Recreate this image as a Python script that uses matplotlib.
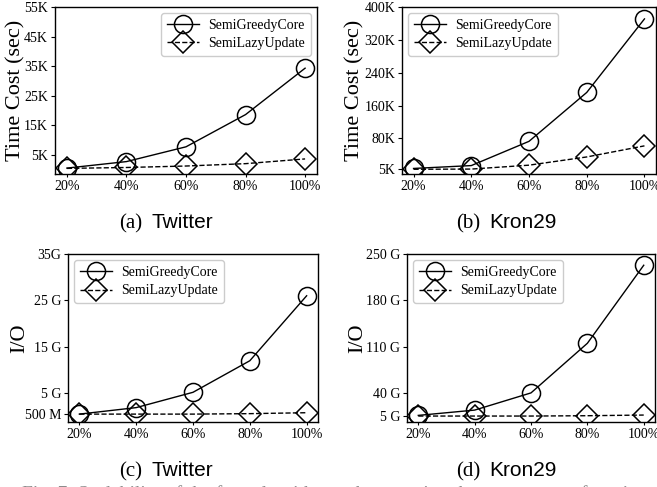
import matplotlib
matplotlib.use('Agg')
import matplotlib.pyplot as plt

W, H, DPI = 657, 487, 100

# ---------------- data ----------------
x_labels = ['20%', '40%', '60%', '80%', '100%']

# (a) Twitter, time cost in K seconds
tw_time_greedy = [0.5, 2.7, 7.7, 18.6, 34.3]
tw_time_lazy = [0.4, 0.7, 1.2, 2.0, 3.6]
tw_time_ticks = [5, 15, 25, 35, 45, 55]
tw_time_ticklabels = ['5K', '15K', '25K', '35K', '45K', '55K']

# (b) Kron29, time cost in K seconds
kr_time_greedy = [7, 14, 73, 192, 371]
kr_time_lazy = [5, 5.5, 15, 35, 62]
kr_time_ticks = [5, 80, 160, 240, 320, 400]
kr_time_ticklabels = ['5K', '80K', '160K', '240K', '320K', '400K']

# (c) Twitter, I/O in G
tw_io_greedy = [0.5, 1.9, 5.2, 12.0, 26.0]
tw_io_lazy = [0.5, 0.5, 0.5, 0.6, 0.8]
tw_io_ticks = [0.5, 5, 15, 25, 35]
tw_io_ticklabels = ['500 M', '5 G', '15 G', '25 G', '35G']

# (d) Kron29, I/O in G
kr_io_greedy = [6, 14, 40, 115, 233]
kr_io_lazy = [5, 5, 5, 5.5, 6.5]
kr_io_ticks = [5, 40, 110, 180, 250]
kr_io_ticklabels = ['5 G', '40 G', '110 G', '180 G', '250 G']

series_names = ['SemiGreedyCore', 'SemiLazyUpdate']

# ---------------- figure ----------------
plt.rcParams['font.family'] = ['Liberation Serif', 'DejaVu Serif']
plt.rcParams['mathtext.fontset'] = 'stix'

fig = plt.figure(figsize=(W / DPI, H / DPI), dpi=DPI)


def px_axes(l, t, r, b):
    return fig.add_axes([l / W, 1 - b / H, (r - l) / W, (b - t) / H])


panels = [
    dict(box=(55, 7, 317, 174), g=tw_time_greedy, l=tw_time_lazy,
         ticks=tw_time_ticks, tl=tw_time_ticklabels, ylim=(-1.5, 55),
         ylabel='Time Cost (sec)', lab_x=15.5, loc='upper right'),
    dict(box=(402, 7, 656, 174), g=kr_time_greedy, l=kr_time_lazy,
         ticks=kr_time_ticks, tl=kr_time_ticklabels, ylim=(-6.5, 400),
         ylabel='Time Cost (sec)', lab_x=355, loc='upper left'),
    dict(box=(68, 254, 318, 422), g=tw_io_greedy, l=tw_io_lazy,
         ticks=tw_io_ticks, tl=tw_io_ticklabels, ylim=(-1.2, 35),
         ylabel='I/O', lab_x=20, loc='upper left'),
    dict(box=(407, 254, 655, 422), g=kr_io_greedy, l=kr_io_lazy,
         ticks=kr_io_ticks, tl=kr_io_ticklabels, ylim=(-4, 250),
         ylabel='I/O', lab_x=358, loc='upper left'),
]

xs = list(range(len(x_labels)))
for p in panels:
    l, t, r, b = p['box']
    ax = px_axes(l, t, r, b)
    ax.plot(xs, p['g'], color='black', lw=1.0, ls='-', marker='o',
            markersize=13, markerfacecolor='none', markeredgewidth=1.1,
            label=series_names[0])
    ax.plot(xs, p['l'], color='black', lw=1.0, ls='--', marker='D',
            markersize=11, markerfacecolor='none', markeredgewidth=1.1,
            label=series_names[1])
    ax.set_xlim(-0.2, 4.2)
    ax.set_ylim(*p['ylim'])
    ax.set_xticks(xs, x_labels)
    ax.set_yticks(p['ticks'], p['tl'])
    ax.tick_params(axis='both', labelsize=10, direction='out', width=0.8,
                   pad=2, colors='black')
    ax.tick_params(axis='x', length=2)
    ax.tick_params(axis='y', length=3)
    for s in ax.spines.values():
        s.set_linewidth(1.0)
        s.set_color('black')
    ax.set_ylabel(p['ylabel'], fontsize=16, va='center')
    ax.yaxis.set_label_coords((p['lab_x'] - l) / (r - l), 0.5)
    ax.legend(loc=p['loc'], fontsize=10, handlelength=2.3,
              borderpad=0.4, labelspacing=0.4, handletextpad=0.7,
              borderaxespad=0.45, framealpha=1.0, edgecolor='0.8')

# ---------------- captions ----------------
renderer = fig.canvas.get_renderer()


def caption(xc, baseline, tag, name, size=15, gap=9):
    t1 = fig.text(0, 1 - baseline / H, tag, fontfamily='Liberation Serif',
                  fontsize=size, ha='left', va='baseline')
    t2 = fig.text(0, 1 - baseline / H, name, fontfamily='Liberation Sans',
                  fontsize=size, ha='left', va='baseline')
    w1 = t1.get_window_extent(renderer).width
    w2 = t2.get_window_extent(renderer).width
    x0 = xc - (w1 + gap + w2) / 2
    t1.set_x(x0 / W)
    t2.set_x((x0 + w1 + gap) / W)


caption(166, 228, '(a)', 'Twitter')
caption(506, 228, '(b)', 'Kron29')
caption(166, 476, '(c)', 'Twitter')
caption(506, 476, '(d)', 'Kron29')

fig.text(22 / W, 1 - 485.5 / H,
         'Fig. 7: Scalability of the four algorithms when varying the percentage of vertices (|V|)',
         fontsize=14, ha='left', va='top', color='0.55')

fig.savefig('out.png', dpi=DPI)
